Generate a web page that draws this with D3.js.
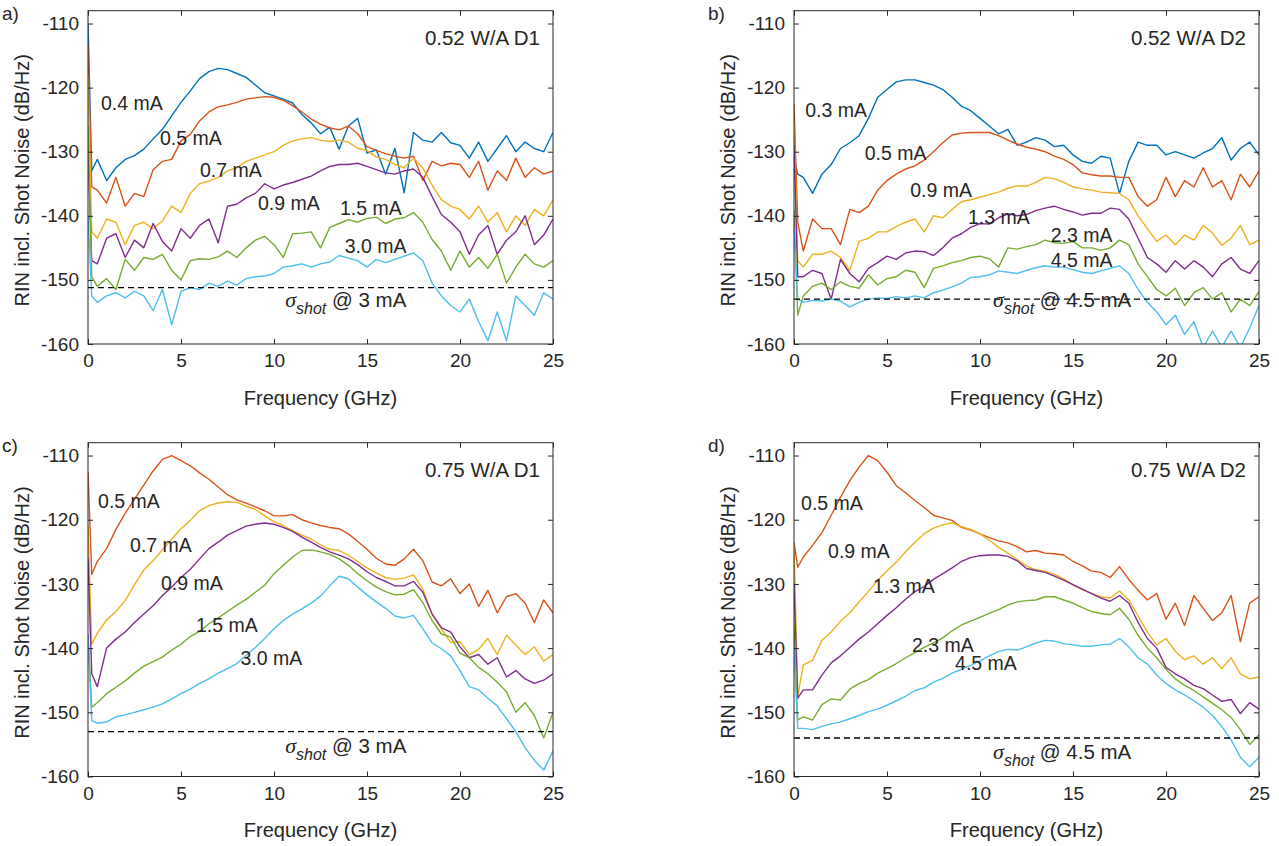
<!DOCTYPE html>
<html lang="en">
<head>
<meta charset="UTF-8">
<title>RIN incl. shot noise</title>
<script src="https://d3js.org/d3.v7.min.js"></script>
<style>
  body { margin: 0; background: #fff; }
  svg text { font-family: "Liberation Sans", Arial, Helvetica, sans-serif; fill: #262626; }
</style>
</head>
<body>
<div id="plot"></div>
<script>
"use strict";

// sample frequencies in GHz (first point is the DC spike)
const freq = [0, 0.2, 0.5, 1, 1.5, 2, 2.5, 3, 3.5, 4, 4.5, 5, 5.5, 6, 6.5, 7, 7.5, 8, 8.5, 9, 9.5,
  10, 10.5, 11, 11.5, 12, 12.5, 13, 13.5, 14, 14.5, 15, 15.5, 16, 16.5, 17, 17.5, 18, 18.5, 19, 19.5,
  20, 20.5, 21, 21.5, 22, 22.5, 23, 23.5, 24, 24.5, 25];

const xTicks = [0, 5, 10, 15, 20, 25];
const yTicks = [-160, -150, -140, -130, -120, -110];

// a) 0.52 W/A D1
const a_04 = [-110, -133, -131.2, -134.5, -132.5, -131.2, -130.6, -129.6, -128, -126.5, -124.4, -122.3, -120.5, -118.6, -117.5, -117, -117.2, -117.8, -118.4, -119.6, -120.8, -121.3, -121.8, -122.4, -124.2, -125.5, -127.2, -126.2, -129.6, -126, -124.8, -130.2, -129.7, -133.5, -129.5, -136.4, -127, -128.2, -128.5, -127, -128.6, -129, -131, -128.5, -131.5, -129.5, -127.5, -130, -128.5, -129.5, -130, -127];
const a_05 = [-113.5, -135.5, -136, -138, -134, -138.5, -136.5, -137, -132.8, -131.5, -131.2, -128.3, -127.3, -125.2, -123.8, -123, -122.7, -122.3, -121.8, -121.6, -121.4, -121.5, -122, -122.8, -123.8, -124.9, -125.7, -126.3, -126.6, -126, -127.2, -129.2, -129.8, -130.3, -130.7, -131, -130.7, -134.5, -131.5, -132.2, -131.8, -132, -134, -131.5, -136, -133, -134.5, -131, -134, -132.5, -133.5, -133];
const a_07 = [-118.3, -142.5, -143.5, -140.5, -141, -144.5, -141.5, -141, -142, -140.8, -138.5, -139.5, -136.5, -135, -134.6, -134, -133, -132.5, -131.5, -131, -130.5, -130, -129, -128.3, -128, -127.8, -128.2, -128.4, -128.2, -128.5, -129.5, -129.8, -130.8, -131.2, -132, -132.5, -131, -132.5, -135.2, -137.5, -138.5, -139, -140.5, -138.5, -141, -139.5, -142.5, -140, -141.5, -139, -140, -137.5];
const a_09 = [-130, -147, -147.5, -143.5, -142.8, -146.5, -143.8, -145, -141.2, -144, -145.5, -142, -143.5, -141.5, -140.5, -144.2, -138.5, -138.2, -137.2, -136.5, -135, -135.8, -135.2, -134.8, -134.3, -133.8, -133, -132.3, -132, -132, -131.8, -132.3, -132.8, -133.3, -133.5, -133, -132.7, -134, -137, -139.8, -141, -142.5, -146, -143, -141.5, -146, -143.8, -142.5, -140, -144.5, -143, -140.5];
const a_15 = [-126, -149.5, -151, -149.8, -151.5, -146.8, -148.5, -146.5, -146.8, -146, -148.5, -150, -147, -146.7, -146.8, -146.4, -145.5, -146.5, -145, -143.8, -143.2, -144.5, -146.5, -142.8, -142.7, -142.5, -145, -141.8, -141.2, -140.6, -141, -140.4, -140.2, -141.2, -140.5, -140.3, -139.5, -141, -143.7, -145.5, -148.5, -145.5, -148, -146.5, -148.2, -146, -150.5, -148, -146, -147.5, -148, -147];
const a_30 = [-140, -152.5, -153.5, -152.5, -152, -152.8, -151.8, -152.5, -154.8, -151.5, -157, -151.8, -151.2, -151.5, -150.5, -151, -150.2, -150.8, -149.8, -149.5, -149.4, -149, -148, -147.8, -147.5, -148, -147.5, -147.2, -146.2, -146.6, -147, -148, -146.8, -147.3, -146.8, -146.3, -145.8, -147, -150.5, -152.5, -154, -155, -153, -156.5, -159.5, -155, -159.5, -152.5, -154, -155.5, -152, -153];

// b) 0.52 W/A D2
const b_03 = [-131, -133.5, -134, -136.5, -133.5, -132, -129.5, -128.6, -127.5, -124.8, -121.5, -120.3, -119.1, -118.8, -118.8, -119.2, -119.6, -120.3, -121.5, -122.9, -123.6, -124.8, -126, -127.2, -126.5, -129, -128.5, -127.8, -128.2, -129.2, -129, -130.5, -131.5, -131.8, -130.7, -131, -136.5, -131.5, -128.5, -129, -129, -130.5, -130, -130.5, -131, -130.2, -129.5, -127.8, -131.3, -129.5, -128.5, -130.5];
const b_05 = [-122.5, -141, -145.5, -140.5, -142, -142, -144.5, -139, -139.5, -138.5, -136, -134.5, -133.5, -132.7, -132.2, -131.3, -130, -128.6, -127.4, -127.1, -127, -127, -127, -127.5, -128.2, -128.8, -129.3, -129.6, -130, -130.7, -131.2, -132, -133.3, -133.6, -133.8, -133.8, -134, -134, -137, -138.5, -137.5, -134, -137, -134.5, -135.5, -132.5, -135.5, -134.5, -137.5, -133.5, -135.5, -133];
const b_09 = [-125.5, -147, -148, -146, -146, -145.5, -146.5, -148.5, -144, -143.5, -142.5, -142.5, -141.7, -141, -140.5, -142.5, -140, -140.3, -139, -137.8, -137.5, -137.1, -136.7, -136.3, -135.7, -135.3, -135.4, -134.8, -134, -134.2, -134.8, -135.5, -135.8, -136, -136.3, -136.4, -136.5, -137.5, -140, -142, -144, -143, -144.5, -143, -143.8, -141.5, -142.7, -144.6, -143.5, -141.5, -144.5, -143.8];
const b_13 = [-129, -149.5, -149.5, -148.5, -149, -153, -146.8, -149, -150.3, -148.2, -147.3, -146.3, -146.8, -145.8, -145.5, -145.6, -146.2, -145, -143.5, -142.8, -141.8, -141.2, -141.3, -140.3, -139.7, -140, -139.8, -139.2, -138.8, -138.5, -139, -139.4, -139.9, -139.6, -139.6, -138.8, -139, -140.5, -143.5, -146.5, -147.5, -148.8, -147, -148.3, -147, -148, -149.5, -147.5, -146.5, -148.3, -149, -147];
const b_23 = [-139, -155.5, -152.5, -151, -150.5, -151.5, -150.3, -151, -151.3, -149.2, -150.8, -149.8, -149.5, -148.5, -148.8, -151.2, -148.2, -147.8, -147.3, -147, -146.5, -146.3, -146.7, -148, -145, -145.2, -144.8, -144.5, -143.8, -144.2, -144.3, -144, -145, -145, -145.4, -145, -143.8, -144.5, -147.5, -149.5, -151.5, -152.5, -151.3, -154, -152, -151.2, -153, -152, -155, -153, -154, -151.8];
const b_45 = [-142, -153, -153.5, -153.2, -153.3, -153, -153.3, -154.2, -153.5, -153, -152.8, -152.9, -152.6, -152.8, -152.5, -152.8, -152, -151.6, -151.1, -150.5, -149.6, -149.5, -149.2, -148.6, -148.8, -149, -148.5, -148.1, -147.8, -148, -148, -148.4, -148.8, -149, -148.6, -148.2, -147.8, -149, -151.5, -153.5, -155, -157, -155.5, -158.5, -156.5, -160.5, -158, -160.5, -158, -160.5, -157.5, -154];

// c) 0.75 W/A D1
const c_05 = [-112.5, -128.5, -126.5, -124.5, -121.5, -119, -116.8, -114.6, -112.4, -110.6, -110, -110.8, -111.6, -112.7, -113.7, -114.9, -116.1, -116.9, -117.4, -118, -118.6, -119.4, -119.4, -119.2, -120, -120.5, -120.9, -121.2, -121.4, -122.2, -123.4, -124.6, -126, -126.9, -127.1, -126.1, -124.6, -126.4, -129.7, -130.3, -129.2, -131.5, -130, -133.5, -131, -134.5, -132, -131.5, -133, -136, -132.5, -134.5];
const c_07 = [-121, -139.4, -137.7, -135.6, -134.3, -132.6, -130.1, -127.8, -126.4, -124.7, -123, -121.4, -120.1, -118.6, -117.8, -117.4, -117.2, -117.3, -117.9, -118.4, -119.4, -120.3, -120.9, -121.7, -122.4, -123, -123.9, -124.6, -124.8, -125.5, -126.5, -127.5, -128.3, -129, -129.3, -129.1, -128.6, -130.8, -134.7, -137, -139.1, -139, -141, -140.2, -138.5, -141, -138, -139.5, -141, -139.8, -142, -141];
const c_09 = [-126, -144, -146, -140, -138.6, -137.5, -136, -134.7, -133.4, -131.8, -130.5, -129, -127.7, -126.1, -124.5, -123.5, -122.4, -121.7, -121, -120.7, -120.5, -120.7, -121.2, -121.8, -122.7, -123.5, -124.3, -125, -125.5, -126.1, -127, -128.1, -129, -129.6, -130.3, -130.3, -129.6, -131.3, -134.7, -136.8, -137.5, -139.8, -141.5, -141, -142.5, -141.5, -144.5, -143.5, -144.8, -145.5, -145, -144];
const c_15 = [-138, -149.2, -148.5, -147.1, -146.1, -145.1, -143.9, -142.8, -142.1, -141.4, -140.3, -139.4, -138.2, -137.4, -136.2, -135.3, -134.3, -133.3, -132.4, -131.3, -130.2, -128.4, -127.1, -125.8, -124.8, -124.7, -125, -125.4, -126.1, -127.1, -128.4, -129.5, -130.5, -131.2, -131.7, -131.6, -130.9, -132.9, -135.7, -137.8, -138.3, -140.8, -141.5, -143, -144, -145.3, -146.8, -150, -148.5, -150.5, -154, -150];
const c_30 = [-138, -151.3, -151.7, -151.5, -150.7, -150.4, -150, -149.6, -149.2, -148.7, -147.9, -147.1, -146.4, -145.5, -144.8, -143.9, -143.2, -142.4, -141.1, -139.9, -138.5, -137, -135.7, -134.7, -133.9, -133, -131.9, -130.3, -128.8, -129.2, -130.5, -131.7, -132.8, -133.8, -135, -135.3, -134.9, -137, -139.2, -140.1, -141.2, -143.5, -146, -146.5, -147.8, -149, -151, -153, -155.5, -157.5, -159, -156];

// d) 0.75 W/A D2
const d_05 = [-123.5, -127.4, -125.8, -124, -122, -119.3, -116.5, -113.9, -111.8, -110, -110.8, -112.6, -114.7, -115.8, -117, -118.1, -119.3, -119.7, -120.1, -121.2, -121.6, -122.2, -122.8, -123.3, -123.6, -124.2, -125, -124.8, -125.2, -125.3, -125.5, -126.5, -127.2, -128, -128.2, -129, -127.3, -129.3, -131, -132.5, -131.5, -135.5, -133, -136.5, -131.8, -133.8, -135.7, -134.5, -131.8, -139, -133, -132];
const d_09 = [-124, -147.5, -142.6, -141.9, -138.8, -137.5, -135.8, -134.5, -132.8, -131.2, -129.4, -128, -126.6, -125, -123.5, -122.2, -121.3, -120.8, -120.5, -121.1, -121.5, -122.2, -123.2, -124.3, -125.2, -126.2, -127.2, -127.8, -128, -128.5, -129.2, -130.2, -130.9, -131.5, -132, -132.2, -131.1, -132.5, -135, -137.5, -139.5, -138.5, -140.5, -141.8, -141.2, -142.5, -141.5, -143.2, -141.5, -144, -144.8, -144.5];
const d_13 = [-130, -147.8, -146.5, -146.5, -144.2, -142.3, -141.2, -139.9, -138.6, -137.5, -136.2, -134.9, -133.7, -132.4, -131.2, -130.4, -129.3, -128.4, -127.5, -126.5, -125.9, -125.6, -125.5, -125.5, -125.7, -126.4, -127.6, -127.9, -128.2, -128.8, -129.4, -130.1, -130.8, -131.5, -132.2, -132.7, -131.8, -133, -136, -138.5, -140, -143, -144, -144.8, -145.8, -146.3, -147.3, -148.3, -148, -150.2, -148.5, -149.5];
const d_23 = [-136.5, -151.2, -150.7, -151.2, -148.8, -147.9, -148.1, -146.4, -145.5, -144.9, -143.9, -143.2, -142.4, -141.5, -140.7, -139.9, -139.2, -138.4, -137.3, -136.4, -135.8, -135.2, -134.6, -134, -133.3, -132.8, -132.6, -132.5, -132, -132, -132.5, -133, -133.7, -134.3, -134.6, -134.8, -133.8, -135.5, -138, -140, -141.5, -143.3, -144.8, -145.8, -146.6, -147.6, -148.6, -149.6, -150.8, -152.7, -155, -153.5];
const d_45 = [-140, -152.5, -152.5, -152.7, -152.2, -151.8, -151.5, -151, -150.5, -149.9, -149.5, -148.9, -148.2, -147.5, -146.6, -146.2, -145.3, -144.7, -143.9, -143.3, -142.7, -142, -141.2, -140.5, -140.2, -140.3, -139.8, -139.2, -138.8, -138.9, -139.3, -139.5, -139.7, -139.7, -139.5, -139.4, -138.5, -139.8, -141.5, -142.5, -144.2, -145.5, -146.5, -147.3, -148.2, -149.2, -150.5, -152.2, -154.3, -157, -158.5, -157];

// shot noise floor (dB/Hz)
const shotLevels = [-151.2, -153, -153, -154];
const shotCurrents = ['3 mA', '4.5 mA', '3 mA', '4.5 mA'];
const deviceNames = ['0.52 W/A D1', '0.52 W/A D2', '0.75 W/A D1', '0.75 W/A D2'];
const panelLetters = ['a)', 'b)', 'c)', 'd)'];

const currentsA = ['0.4 mA', '0.5 mA', '0.7 mA', '0.9 mA', '1.5 mA', '3.0 mA'];
const currentsB = ['0.3 mA', '0.5 mA', '0.9 mA', '1.3 mA', '2.3 mA', '4.5 mA'];
const currentsC = ['0.5 mA', '0.7 mA', '0.9 mA', '1.5 mA', '3.0 mA'];
const currentsD = ['0.5 mA', '0.9 mA', '1.3 mA', '2.3 mA', '4.5 mA'];

// MATLAB default line colours
const blue = '#0072BD', orange = '#D95319', yellow = '#EDB120',
      purple = '#7E2F8E', green = '#77AC30', cyan = '#4DBEEE';

function translate(x, y) {
    return 'translate(' + x + ', ' + y + ')';
}

const svgWidth = 1279, svgHeight = 846;
const svg = d3.select('#plot').append('svg')
    .attr('width', svgWidth)
    .attr('height', svgHeight);

// panel layout: box in pixels, label anchors in data units
const panels = [
    { left: 88, right: 553, top: 10.7, bottom: 344,
      series: [a_04, a_05, a_07, a_09, a_15, a_30], currents: currentsA,
      colors: [blue, orange, yellow, purple, green, cyan],
      labelAt: [[0.7, -123.5], [3.87, -128.95], [6.02, -133.95], [9.14, -139.1], [13.55, -139.9], [13.8, -145.8]],
      shotAt: [10.6, -154.2] },
    { left: 794, right: 1259, top: 10.7, bottom: 344,
      series: [b_03, b_05, b_09, b_13, b_23, b_45], currents: currentsB,
      colors: [blue, orange, yellow, purple, green, cyan],
      labelAt: [[0.6, -124.6], [3.8, -131.3], [6.25, -137.1], [9.35, -141.3], [13.8, -144.1], [13.8, -148]],
      shotAt: [10.7, -154.2] },
    { left: 88, right: 553, top: 442.7, bottom: 776.5,
      series: [c_05, c_07, c_09, c_15, c_30], currents: currentsC,
      colors: [orange, yellow, purple, green, cyan],
      labelAt: [[0.54, -118.2], [2.26, -125], [3.92, -130.9], [5.8, -137.5], [8.2, -142.6]],
      shotAt: [10.6, -156.4] },
    { left: 794, right: 1259, top: 442.7, bottom: 776.5,
      series: [d_05, d_09, d_13, d_23, d_45], currents: currentsD,
      colors: [orange, yellow, purple, green, cyan],
      labelAt: [[0.38, -118.5], [1.83, -126], [4.25, -131.4], [6.34, -140.6], [8.66, -143.4]],
      shotAt: [10.7, -157.3] }
];

function createPanel(p, i) {
    let width = p.right - p.left;
    let height = p.bottom - p.top;

    let x = d3.scaleLinear().domain([0, 25]).range([0, width]);
    let y = d3.scaleLinear().domain([-160, -108]).range([height, 0]);

    let g = svg.append('g').attr('transform', translate(p.left, p.top));

    g.append('clipPath').attr('id', 'clip' + i)
        .append('rect').attr('width', width).attr('height', height);

    let plotArea = g.append('g').attr('clip-path', 'url(#clip' + i + ')');

    let line = d3.line()
        .defined(d => d[1] !== undefined)
        .x(d => x(d[0]))
        .y(d => y(d[1]));

    plotArea.selectAll('path.curve')
        .data(p.series)
        .enter()
        .append('path')
        .attr('class', 'curve')
        .attr('d', s => line(freq.map((f, k) => [f, s[k]])))
        .attr('fill', 'none')
        .attr('stroke', (s, k) => p.colors[k])
        .attr('stroke-width', 1.4)
        .attr('stroke-linejoin', 'round');

    // shot-noise floor
    plotArea.append('line')
        .attr('x1', 0).attr('x2', width)
        .attr('y1', y(shotLevels[i])).attr('y2', y(shotLevels[i]))
        .attr('stroke', '#000')
        .attr('stroke-width', 1.3)
        .attr('stroke-dasharray', '6,4');

    // axes, ticks pointing inward on all four sides
    let axisStyle = sel => {
        sel.select('.domain').remove();
        sel.selectAll('line').attr('stroke', '#262626');
        sel.selectAll('text')
            .style('font-family', '"Liberation Sans", Arial, sans-serif')
            .style('font-size', '19px')
            .attr('fill', '#262626');
    };

    g.append('g').attr('transform', translate(0, height))
        .call(d3.axisBottom(x).tickValues(xTicks).tickSize(-5).tickPadding(10).tickFormat(d => d))
        .call(axisStyle);
    g.append('g')
        .call(d3.axisTop(x).tickValues(xTicks).tickSize(-5).tickFormat(''))
        .call(axisStyle);
    g.append('g')
        .call(d3.axisLeft(y).tickValues(yTicks).tickSize(-5).tickPadding(9).tickFormat(d => String(d)))
        .call(axisStyle);
    g.append('g').attr('transform', translate(width, 0))
        .call(d3.axisRight(y).tickValues(yTicks).tickSize(-5).tickFormat(''))
        .call(axisStyle);

    g.append('rect')
        .attr('width', width).attr('height', height)
        .attr('fill', 'none')
        .attr('stroke', '#262626')
        .attr('stroke-width', 1);

    // curve labels
    g.selectAll('text.curr')
        .data(p.currents)
        .enter()
        .append('text')
        .attr('class', 'curr')
        .attr('x', (c, k) => x(p.labelAt[k][0]))
        .attr('y', (c, k) => y(p.labelAt[k][1]))
        .style('font-size', '19.5px')
        .text(c => c);

    // device name
    g.append('text')
        .attr('x', x(24.3))
        .attr('y', y(-113.35))
        .attr('text-anchor', 'end')
        .style('font-size', '20.5px')
        .text(deviceNames[i]);

    // sigma_shot label
    let s = g.append('text')
        .attr('x', x(p.shotAt[0]))
        .attr('y', y(p.shotAt[1]))
        .style('font-size', '20.5px');
    s.append('tspan')
        .style('font-family', '"Liberation Serif", "DejaVu Serif", serif')
        .style('font-style', 'italic')
        .style('font-size', '22px')
        .text('\u03C3');
    s.append('tspan')
        .attr('dy', 7)
        .style('font-style', 'italic')
        .style('font-size', '16px')
        .text('shot');
    s.append('tspan')
        .attr('dy', -7)
        .text(' @ ' + shotCurrents[i]);

    // axis titles
    g.append('text')
        .attr('x', width / 2)
        .attr('y', height + 61)
        .attr('text-anchor', 'middle')
        .style('font-size', '20px')
        .text('Frequency (GHz)');

    g.append('text')
        .attr('transform', translate(-59, height / 2 + 3) + ' rotate(-90)')
        .attr('text-anchor', 'middle')
        .style('font-size', '20px')
        .text('RIN incl. Shot Noise (dB/Hz)');

    // panel letter
    svg.append('text')
        .attr('x', p.left - 86)
        .attr('y', p.top + 9)
        .style('font-size', '19px')
        .text(panelLetters[i]);
}

panels.forEach(createPanel);
</script>
</body>
</html>
